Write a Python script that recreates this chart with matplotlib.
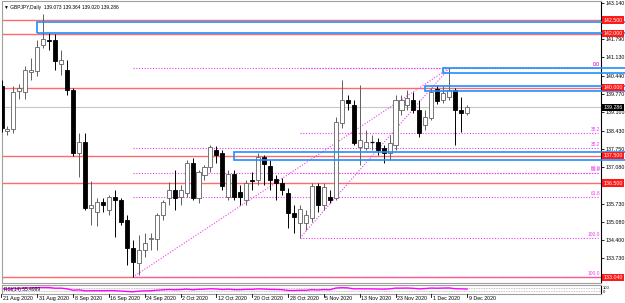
import matplotlib
matplotlib.use("Agg")
import matplotlib.pyplot as plt
import matplotlib.transforms as mtransforms
from matplotlib.patches import Rectangle

plt.rcParams["font.family"] = ["Liberation Sans", "DejaVu Sans"]

W, H = 625, 303

# GBPJPY daily, 21 Aug 2020 .. 9 Dec 2020
opens = [140.07, 138.42, 138.49, 139.89, 139.85, 140.59, 140.62, 141.58, 141.76, 141.76,
         140.88, 140.66, 139.92, 137.61, 138.01, 135.58, 135.44, 135.80, 135.51, 135.99,
         135.88, 135.14, 134.11, 133.56, 134.04, 134.44, 134.44, 135.32, 135.95, 136.24,
         135.99, 136.13, 137.24, 135.95, 136.80, 137.09, 137.72, 137.61, 135.99, 136.83,
         136.17, 135.88, 136.61, 136.61, 137.46, 137.13, 136.65, 136.50, 136.13, 135.40,
         135.03, 135.03, 135.21, 136.39, 135.69, 135.99, 135.95, 138.71, 139.56, 139.37,
         137.83, 137.79, 138.01, 138.01, 137.79, 137.61, 137.90, 139.19, 139.37, 139.56,
         139.19, 138.64, 138.89, 139.96, 139.56, 139.67, 139.92, 139.19, 139.073]
highs = [140.29, 138.60, 140.07, 140.15, 140.81, 141.10, 141.76, 142.72, 142.02, 141.99,
         141.40, 141.03, 139.99, 138.34, 138.34, 136.58, 135.95, 135.95, 136.06, 136.24,
         135.95, 135.32, 134.40, 134.59, 134.66, 134.66, 135.40, 135.88, 136.54, 136.98,
         136.43, 137.35, 137.42, 136.98, 137.16, 137.90, 137.86, 137.72, 136.98, 136.98,
         136.43, 136.61, 136.91, 137.61, 137.53, 137.35, 136.80, 136.69, 136.32, 135.69,
         135.69, 135.51, 136.50, 136.50, 136.50, 136.24, 138.93, 140.29, 139.74, 139.56,
         140.11, 138.45, 138.27, 138.16, 137.90, 138.27, 139.74, 139.74, 139.92, 139.85,
         139.56, 139.19, 139.99, 140.11, 140.07, 140.73, 139.99, 139.67, 139.364]
lows = [138.38, 138.27, 138.34, 139.59, 139.59, 140.29, 140.44, 141.47, 141.40, 140.66,
        140.48, 139.74, 137.50, 136.72, 135.51, 134.96, 134.92, 135.44, 135.32, 134.51,
        134.96, 133.49, 133.04, 133.12, 133.78, 134.04, 134.04, 135.14, 135.69, 135.51,
        135.69, 135.99, 135.88, 135.77, 136.61, 136.91, 137.24, 136.24, 135.88, 135.88,
        135.69, 135.69, 136.24, 136.43, 136.43, 136.24, 135.88, 136.06, 134.85, 134.66,
        134.48, 134.77, 135.07, 135.44, 135.51, 135.77, 135.88, 138.53, 139.19, 137.90,
        137.16, 137.72, 137.72, 137.53, 137.24, 137.35, 137.72, 139.00, 139.19, 139.08,
        138.19, 138.45, 138.82, 139.41, 139.45, 139.56, 137.90, 138.38, 139.020]
closes = [138.53, 138.49, 139.85, 139.99, 140.66, 140.66, 141.51, 141.80, 141.73, 140.99,
          141.03, 139.92, 137.61, 138.01, 135.58, 135.69, 135.80, 135.69, 135.99, 135.88,
          135.07, 134.11, 133.60, 134.04, 134.29, 134.46, 135.32, 135.80, 136.24, 135.95,
          136.24, 137.24, 135.95, 136.91, 137.09, 137.83, 137.53, 136.39, 136.83, 135.99,
          135.99, 136.50, 136.58, 137.46, 137.20, 136.61, 136.50, 136.24, 135.40, 135.25,
          135.55, 135.32, 136.39, 135.69, 136.35, 135.88, 138.75, 139.56, 139.45, 137.97,
          138.08, 138.01, 138.02, 137.72, 137.61, 137.97, 139.56, 139.56, 139.63, 139.19,
          138.34, 138.93, 139.85, 139.52, 139.81, 139.92, 139.19, 139.08, 139.286]

rsi = [58, 55, 62, 63, 67, 68, 71, 72, 71, 64, 65, 57, 42, 46, 35, 36, 37, 36, 38, 37,
       33, 28, 25, 32, 35, 36, 42, 46, 50, 47, 49, 55, 47, 52, 54, 58, 56, 50, 54, 48,
       48, 52, 52, 57, 55, 51, 50, 48, 40, 39, 42, 41, 48, 45, 49, 47, 66, 70, 68, 57,
       58, 57, 57, 55, 54, 57, 65, 65, 66, 63, 57, 61, 66, 64, 66, 67, 59, 57, 55.4999]

date_pos = [0, 6, 12, 18, 24, 30, 36, 42, 48, 54, 60, 66, 72, 78]
date_labels = ["21 Aug 2020", "31 Aug 2020", "8 Sep 2020", "16 Sep 2020", "24 Sep 2020",
               "2 Oct 2020", "12 Oct 2020", "20 Oct 2020", "28 Oct 2020", "5 Nov 2020",
               "13 Nov 2020", "23 Nov 2020", "1 Dec 2020", "9 Dec 2020"]

price_ticks = [143.14, 141.79, 141.13, 140.44, 139.77, 139.10, 138.43, 137.75,
               137.08, 135.73, 135.08, 134.40, 133.73]

# horizontal levels (red) and zones (blue boxes)
red_levels = [142.50, 142.00, 140.00, 137.50, 136.50, 133.04]
zone_start = [6, 74, 71, 39]
zone_low = [142.02, 140.55, 139.89, 137.35]
zone_high = [142.43, 140.73, 140.07, 137.64]

# fibo retracements: (start bar, low) -> (end bar, high)
fib_start = [22, 50]
fib_low = [133.04, 134.48]
fib_end = 75
fib_high = 140.73
fib_levels = [[0.0, 38.2, 50.0, 61.8, 100.0], [0.0, 38.2, 61.8, 100.0]]

bid = 139.286

FIB_C = "#f03cf0"
RED_C = "#ff6a6a"
BLUE_C = "#1e90ff"
FS = 3.8
X0, STEP = 1.5, 5.97  # pixel of bar 0, pixels per bar


def px_axes(fig, x0, y0, x1, y1):
    return fig.add_axes([x0 / W, 1 - y1 / H, (x1 - x0) / W, (y1 - y0) / H])


def to_idx(px):
    return (px - X0) / STEP


def draw_candles(ax):
    for i in range(len(opens)):
        o, h, l, c = opens[i], highs[i], lows[i], closes[i]
        up = c >= o
        col = "#606060" if up else "black"
        ax.vlines(i, l, h, color=col, lw=0.7, zorder=3)
        body = abs(c - o)
        if body < 0.02:
            ax.hlines(o, i - 0.35, i + 0.35, color="black", lw=0.9, zorder=4)
            continue
        ax.bar(i, body, bottom=min(o, c), width=0.68,
               facecolor="white" if up else "black", edgecolor=col, lw=0.6, zorder=4)


fig = plt.figure(figsize=(W / 100, H / 100), dpi=100)
fig.patch.set_facecolor("white")

ax = px_axes(fig, 2, 1, 601, 283)
top_price = 143.236 - 0.0368 * 1
bot_price = 143.236 - 0.0368 * 283
ax.set_ylim(bot_price, top_price)
ax.set_xlim(to_idx(2), to_idx(601))
trans = mtransforms.blended_transform_factory(ax.transAxes, ax.transData)

draw_candles(ax)

# bid line
ax.axhline(bid, color="#c8c8c8", lw=0.8, zorder=1)

# red levels
for lv in red_levels:
    ax.axhline(lv, color=RED_C, lw=1.0, zorder=2)

# blue zones, they run over the price scale in the screenshot
for s, lo, hi in zip(zone_start, zone_low, zone_high):
    r = Rectangle((s, lo), to_idx(626) - s, hi - lo, fill=False, ec=BLUE_C, lw=1.2,
                  clip_on=False, zorder=6)
    ax.add_patch(r)

# fibo
for k in range(len(fib_start)):
    s, lo = fib_start[k], fib_low[k]
    ax.plot([s, fib_end], [lo, fib_high], color=FIB_C, lw=0.8, ls=(0, (1, 1.5)), zorder=2)
    for lv in fib_levels[k]:
        p = fib_high - (fib_high - lo) * lv / 100
        ax.plot([s, to_idx(598)], [p, p], color=FIB_C, lw=0.8, ls=(0, (1, 1.5)), zorder=2)
        ax.text(to_idx(600), p + 0.04, f"{lv:.1f}", color=FIB_C, fontsize=3.5,
                ha="right", va="bottom", zorder=7)

# axes look
ax.set_xticks([])
ax.yaxis.tick_right()
ax.set_yticks(price_ticks)
ax.set_yticklabels([f"{v:.3f}" for v in price_ticks])
ax.tick_params(axis="y", labelsize=FS, length=2, width=0.6, pad=1.2, colors="black")
for sp in ["left", "top", "bottom"]:
    ax.spines[sp].set_color("#a0a0a0")
    ax.spines[sp].set_linewidth(0.8)
ax.spines["right"].set_color("black")
ax.spines["right"].set_linewidth(0.8)

# price tags on the scale
for lv in red_levels:
    ax.text(1.004, lv, f"{lv:.3f}", transform=trans, fontsize=FS, color="white",
            va="center", ha="left", zorder=8, clip_on=False,
            bbox=dict(boxstyle="square,pad=0.2", fc="#ff1a1a", ec="none"))
ax.text(1.004, bid, f"{bid:.3f}", transform=trans, fontsize=FS, color="white",
        va="center", ha="left", zorder=8, clip_on=False,
        bbox=dict(boxstyle="square,pad=0.2", fc="black", ec="none"))

# header
ax.text(0.004, 0.985, "\u25bc GBPJPY,Daily  139.073 139.364 139.020 139.286",
        transform=ax.transAxes, fontsize=3.5, va="top", ha="left", color="black")

# RSI sub window
ax2 = px_axes(fig, 2, 285, 601, 294)
ax2.set_xlim(to_idx(2), to_idx(601))
ax2.set_ylim(0, 100)
ax2.axhline(70, color="#b0b0b0", lw=0.6, ls=(0, (1, 1)))
ax2.axhline(30, color="#b0b0b0", lw=0.6, ls=(0, (1, 1)))
ax2.plot(range(len(rsi)), rsi, color="#ff00ff", lw=1.0)
ax2.text(0.004, 0.55, "RSI(14) 55.4999", transform=ax2.transAxes, fontsize=3.5,
         va="center", ha="left", color="black")
ax2.set_xticks([])
ax2.set_yticks([])
for sp in ax2.spines.values():
    sp.set_color("#a0a0a0")
    sp.set_linewidth(0.8)
ax2.spines["right"].set_color("black")
fig.text(603 / W, 1 - 288 / H, "100", fontsize=3.0, va="center", ha="left")
fig.text(603 / W, 1 - 292 / H, "0", fontsize=3.0, va="center", ha="left")

# date axis
for pos, lab in zip(date_pos, date_labels):
    xp = X0 + STEP * pos
    fig.add_artist(plt.Line2D([xp / W, xp / W], [1 - 294 / H, 1 - 297 / H],
                              color="black", lw=0.6))
    fig.text((xp + 1.5) / W, 1 - 298.5 / H, lab, fontsize=FS, va="center", ha="left")

fig.savefig("out.png", dpi=100)
